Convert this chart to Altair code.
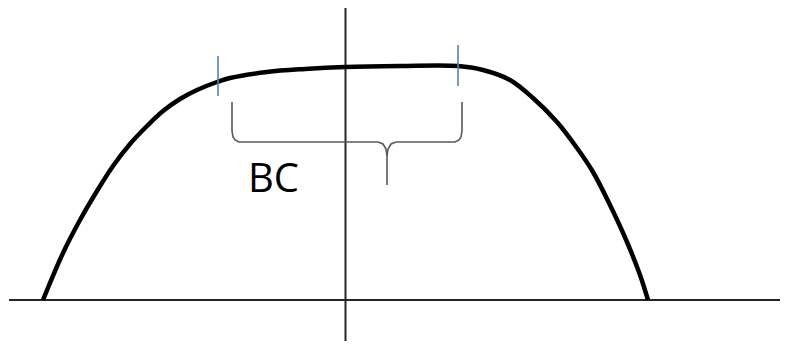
import altair as alt
import pandas as pd

# Main curve (x relative to vertical axis, y above baseline)
curve_x = [-302, -282, -265, -248, -232, -215, -198, -182, -165, -148, -128, -115,
           -78, -40, 0, 55, 113, 138, 165, 188, 212, 232, 248, 265, 282, 295, 303]
curve_y = [0, 47, 80, 109, 134, 156, 174, 189, 201, 210, 218, 222,
           228, 231, 233, 234, 234, 230, 220, 202, 178, 152, 128, 95, 58, 25, 0]

# Blue boundary ticks
tick_x = [-127, 113]
tick_y1 = [204, 214]
tick_y2 = [244, 255]

# Brace (two halves)
brace_left_x = [-113, -113, -112, -110, -106, 33, 38, 41, 42, 42]
brace_left_y = [198, 169, 163, 160, 158, 158, 156, 151, 144, 115]
brace_right_x = [42, 43, 46, 51, 110, 114, 116, 117, 117]
brace_right_y = [144, 151, 156, 158, 158, 160, 163, 169, 198]

# Label
label_text = ["BC"]
label_x = [-97]
label_y = [108]

# Axes lines
axis_h = {"x": [-336], "x2": [435], "y": [0]}
axis_v = {"x": [0.5], "y": [-41], "y2": [292]}

xs = alt.Scale(domain=[-337, 435], nice=False, zero=False)
ys = alt.Scale(domain=[-41, 292], nice=False, zero=False)

curve_df = pd.DataFrame({"x": curve_x, "y": curve_y, "i": range(len(curve_x))})
tick_df = pd.DataFrame({"x": tick_x, "y": tick_y1, "y2": tick_y2})
brace_df = pd.DataFrame({
    "x": brace_left_x + brace_right_x,
    "y": brace_left_y + brace_right_y,
    "seg": ["L"] * len(brace_left_x) + ["R"] * len(brace_right_x),
    "i": list(range(len(brace_left_x))) + list(range(len(brace_right_x))),
})
label_df = pd.DataFrame({"x": label_x, "y": label_y, "t": label_text})
h_df = pd.DataFrame(axis_h)
v_df = pd.DataFrame(axis_v)

hline = alt.Chart(h_df).mark_rule(color="#262626", strokeWidth=2).encode(
    x=alt.X("x:Q", scale=xs, axis=None),
    x2="x2:Q",
    y=alt.Y("y:Q", scale=ys, axis=None),
)
vline = alt.Chart(v_df).mark_rule(color="#262626", strokeWidth=2).encode(
    x=alt.X("x:Q", scale=xs, axis=None),
    y=alt.Y("y:Q", scale=ys, axis=None),
    y2="y2:Q",
)
curve = alt.Chart(curve_df).mark_line(
    color="#000000", strokeWidth=4.5, interpolate="catmull-rom", strokeCap="butt"
).encode(
    x=alt.X("x:Q", scale=xs, axis=None),
    y=alt.Y("y:Q", scale=ys, axis=None),
    order="i:Q",
)
ticks = alt.Chart(tick_df).mark_rule(color="#4f81bd", strokeWidth=1.6).encode(
    x=alt.X("x:Q", scale=xs, axis=None),
    y=alt.Y("y:Q", scale=ys, axis=None),
    y2="y2:Q",
)
brace = alt.Chart(brace_df).mark_line(color="#595959", strokeWidth=1.6).encode(
    x=alt.X("x:Q", scale=xs, axis=None),
    y=alt.Y("y:Q", scale=ys, axis=None),
    detail="seg:N",
    order="i:Q",
)
label = alt.Chart(label_df).mark_text(
    font="Open Sans", fontSize=40, align="left", baseline="alphabetic", color="#000000"
).encode(
    x=alt.X("x:Q", scale=xs, axis=None),
    y=alt.Y("y:Q", scale=ys, axis=None),
    text="t:N",
)

chart = alt.layer(hline, vline, brace, curve, ticks, label).properties(
    width=772, height=333, autosize=alt.AutoSizeParams(type="none"), padding=0,
    background="white",
).configure_view(stroke=None)

chart.save("out.html", embed_options={"renderer": "svg", "actions": False})
